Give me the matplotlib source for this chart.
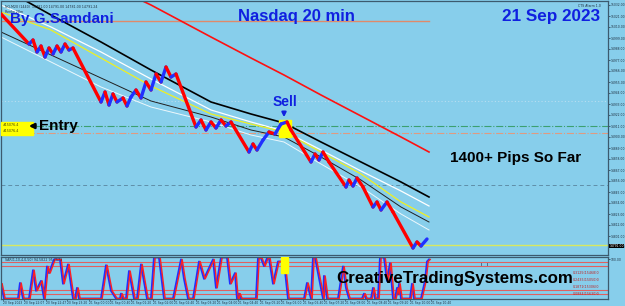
import numpy as np
import matplotlib
matplotlib.use("Agg")
import matplotlib.pyplot as plt
from matplotlib.patches import Rectangle
from matplotlib.collections import LineCollection

W, H = 625, 306
BG = "#87CEEB"
FONT = "Liberation Sans"

# ---- price path (bar, close); 1 bar ~ 1 px, 1 point ~ 1 px ----
bars = [0, 28, 32, 36, 40, 44, 48, 52, 56, 60, 64, 68, 72, 100, 104, 108, 112, 116, 122, 126,
        130, 135, 140, 145, 150, 155, 160, 165, 170, 175, 195, 200, 205, 210, 215, 220, 225, 230,
        248, 252, 256, 262, 268, 274, 280, 286, 290, 310, 314, 318, 322, 328, 345, 348, 352, 356,
        362, 372, 376, 380, 386, 392, 412, 416, 420, 426]
close = [15023, 14993, 14997, 14985, 14991, 14980, 14989, 14983, 14991, 14985, 14993, 14987, 14989,
         14935, 14945, 14932, 14943, 14935, 14939, 14931, 14940, 14947, 14939, 14955, 14947, 14963,
         14955, 14970, 14960, 14963, 14910, 14917, 14907, 14915, 14909, 14917, 14911, 14915, 14885,
         14893, 14887, 14897, 14905, 14903, 14913, 14915, 14907, 14875, 14883, 14877, 14885, 14875,
         14850, 14857, 14851, 14859, 14850, 14830, 14835, 14827, 14835, 14825, 14789, 14795, 14791,
         14798]

# ---- moving averages / bands (bar, value) ----
ma_x = [0, 50, 100, 150, 210, 250, 283, 320, 360, 400, 428]
ma_red = [15105, 15080, 15056, 15032, 15000, 14979, 14962, 14942, 14921, 14900, 14885]
ma_black = [15050, 15022, 14995, 14967, 14935, 14923, 14914, 14895, 14875, 14855, 14840]
ma_white1 = [15032, 15010, 14985, 14958, 14927, 14915, 14906, 14887, 14866, 14846, 14831]
ma_yellow = [15025, 15007, 14979, 14951, 14923, 14913, 14905, 14885, 14863, 14835, 14820]
ma_thin = [15005, 14982, 14959, 14936, 14920, 14907, 14900, 14880, 14857, 14830, 14815]
ma_white2 = [15000, 14975, 14950, 14930, 14915, 14902, 14895, 14873, 14850, 14823, 14807]

# ---- oscillator (bar, value 0-100) ----
osc_x = [0, 3, 17, 19, 22, 28, 32, 35, 40, 43, 46, 48, 53, 59, 62, 67, 72, 74, 76, 78, 100, 105,
         110, 115, 119, 120, 122, 125, 128, 133, 136, 140, 146, 150, 153, 158, 163, 172, 180, 183,
         187, 192, 198, 203, 212, 215, 220, 226, 229, 234, 236, 237, 238, 240, 255, 257, 260, 263,
         266, 268, 272, 277, 283, 287, 303, 306, 310, 312, 314, 322, 323, 326, 337, 342, 345, 348,
         361, 363, 365, 370, 372, 374, 377, 379, 383, 386, 389, 392, 394, 396, 397, 398, 400, 409,
         411, 413, 420, 424, 426, 428]
osc_v = [36, 0, 0, 38, 0, 0, 69, 19, 43, 0, 78, 62, 95, 95, 36, 83, 0, 0, 26, 0, 0, 81,
         19, 0, 0, 12, 0, 0, 67, 0, 0, 83, 0, 0, 100, 100, 0, 0, 95, 48,
         0, 0, 90, 48, 95, 26, 100, 100, 36, 62, 0, 0, 12, 0, 0, 98, 98, 79,
         98, 98, 36, 90, 90, 0, 0, 38, 0, 100, 100, 0, 55, 0, 0, 78, 26, 0,
         0, 12, 0, 0, 26, 0, 0, 100, 100, 43, 86, 0, 0, 26, 10, 36, 0, 0,
         36, 0, 0, 43, 90, 95]
osc_levels = [90, 80, 20, 10]

time_labels = ["20 Sep 2023", "20 Sep 22:07", "20 Sep 22:47", "20 Sep 23:20", "21 Sep 00:00",
               "21 Sep 00:40", "21 Sep 01:20", "21 Sep 02:00", "21 Sep 02:40", "21 Sep 03:20",
               "21 Sep 04:00", "21 Sep 04:40", "21 Sep 05:20", "21 Sep 06:00", "21 Sep 06:40",
               "21 Sep 07:20", "21 Sep 08:00", "21 Sep 08:40", "21 Sep 09:20", "21 Sep 10:00",
               "21 Sep 10:40"]

price_ticks = [15032 - 11 * k for k in range(23)]
last_price = 14791

fig = plt.figure(figsize=(W / 100, H / 100), dpi=100, facecolor=BG)


def frac(x0, y0, x1, y1):
    return [x0 / W, 1 - y1 / H, (x1 - x0) / W, (y1 - y0) / H]


ax = fig.add_axes(frac(1, 1, 608, 255), facecolor=BG)
ax2 = fig.add_axes(frac(1, 257, 608, 299), facecolor=BG)
for a in (ax, ax2):
    for s in a.spines.values():
        s.set_color("#3c5a6e")
        s.set_linewidth(0.9)
    a.yaxis.tick_right()
    a.tick_params(axis="y", length=1.2, width=0.5, labelsize=2.2, pad=0.5, colors="#203040")
    a.set_xlim(0, 607)

ax.set_ylim(15036 - 254, 15036)
ax.set_yticks(price_ticks)
ax.set_yticklabels([f"{v:.2f}" for v in price_ticks])
ax.set_xticks([])

# horizontal lines
ax.plot([0, 428], [15016, 15016], color="#E08A6A", lw=1.0)
ax.axhline(14936, color="#B8DDF0", lw=0.8, ls=(0, (1, 2)))
ax.axhline(14911, color="#3CA070", lw=0.8, ls="-.")
ax.axhline(14904, color="#E09A80", lw=0.8, ls="-.")
ax.axhline(14852, color="#5F8FA8", lw=0.7, ls=(0, (4, 3)))
ax.axhline(14792, color="#D8E860", lw=1.0)

# moving averages / bands
ax.plot(ma_x, ma_red, color="#FF1010", lw=1.2)
ax.plot(ma_x, ma_black, color="black", lw=1.2)
ax.plot(ma_x, ma_white1, color="white", lw=0.9)
ax.plot(ma_x, ma_yellow, color="#F0F020", lw=0.9)
ax.plot(ma_x, ma_thin, color="#202020", lw=0.7)
ax.plot(ma_x, ma_white2, color="white", lw=0.7, alpha=0.85)

# price zigzag: red when falling, blue when rising
pts = np.column_stack([bars, close])
segs = np.stack([pts[:-1], pts[1:]], axis=1)
cols = ["#FF0000" if b[1] < a[1] else "#2030FF" for a, b in segs]
ax.add_collection(LineCollection(segs, colors=cols, linewidths=2.4, capstyle="round", zorder=4))

# sell highlight
ax.add_patch(Rectangle((278, 14900), 12, 17, color="#FFFF00", zorder=3))
ax.annotate("", xy=(283, 14917), xytext=(283, 14928),
            arrowprops=dict(arrowstyle="-|>", color="#1020E0", lw=1.5, mutation_scale=6), zorder=6)
ax.text(284, 14935, "Sell", color="#1020E0", fontsize=10, fontweight="bold", family=FONT,
        ha="center", va="center", zorder=6)

# entry label
ax.add_patch(Rectangle((0, 14902), 32, 13, color="#FFFF00", zorder=3, clip_on=False))
ax.text(2, 14912, "#15076.4", fontsize=2.3, color="#404000", va="center", zorder=5)
ax.text(2, 14906, "#15076.4", fontsize=2.3, color="#404000", va="center", zorder=5)
ax.annotate("", xy=(25, 14911), xytext=(37, 14911),
            arrowprops=dict(arrowstyle="-|>", color="black", lw=1.8, mutation_scale=7), zorder=6)
ax.text(38, 14911, "Entry", color="black", fontsize=11, fontweight="bold", family=FONT,
        ha="left", va="center", zorder=6)

# current price box
ax.text(1.002, last_price, f"{last_price:.2f}", transform=ax.get_yaxis_transform(), fontsize=2.2,
        color="white", va="center", ha="left", clip_on=False, zorder=10,
        bbox=dict(boxstyle="square,pad=0.15", fc="black", ec="none"))

# tiny header texts
ax.text(4, 15030, "NQ,M20 (1440)  14781.00 14791.00 14781.00 14791.24", fontsize=2.3, color="#203040")
ax.text(4, 15024, "Renko 20m", fontsize=2.3, color="#203040")
ax.text(600, 15030, "CTS Alarm 1.0", fontsize=2.3, color="#203040", ha="right")

# oscillator panel
ax2.set_ylim(-1, 101)
for lv in osc_levels:
    ax2.axhline(lv, color="#E06060", lw=0.8)
ax2.plot(osc_x, osc_v, color="#2030FF", lw=1.4)
ax2.plot(np.array(osc_x) + 1.2, osc_v, color="#FF2020", lw=1.0)
ax2.add_patch(Rectangle((280, 62), 7, 40, color="#FFFF00", zorder=3))
ax2.set_yticks([96])
ax2.set_yticklabels(["100.00"])
ax2.text(4, 92, "SAR(1,10,4,0,50) 94.5822 95.7573", fontsize=2.3, color="#203040")
red_notes = ["0.3125(15468)0", "0.2435(15050)0", "0.1871(15306)0", "0.0884(15630)0"]
for i, t in enumerate(red_notes):
    ax2.text(585, 63 - i * 17, t, fontsize=2.3, color="#C02020", ha="center", va="center")
ax2.add_patch(Rectangle((480, 80), 6, 8, fill=False, ec="#406080", lw=0.6))

ax2.set_xticks([2 + 21.4 * i for i in range(len(time_labels))])
ax2.set_xticklabels(time_labels)
ax2.tick_params(axis="x", length=1.2, width=0.4, labelsize=2.2, pad=0.4, colors="#203040")
for lbl in ax2.get_xticklabels():
    lbl.set_ha("left")

# big overlay texts
fig.text(10 / W, 1 - 19 / H, "By G.Samdani", color="#1020E0", fontsize=11, fontweight="bold",
         family=FONT, va="center")
fig.text(296 / W, 1 - 16 / H, "Nasdaq 20 min", color="#1020E0", fontsize=12, fontweight="bold",
         family=FONT, va="center", ha="center")
fig.text(551 / W, 1 - 16 / H, "21 Sep 2023", color="#1020E0", fontsize=12.3, fontweight="bold",
         family=FONT, va="center", ha="center")
fig.text(516 / W, 1 - 158 / H, "1400+ Pips So Far", color="black", fontsize=11, fontweight="bold",
         family=FONT, va="center", ha="center")
fig.text(455 / W, 1 - 278 / H, "CreativeTradingSystems.com", color="black", fontsize=12.2,
         fontweight="bold", family=FONT, va="center", ha="center")

fig.savefig("out.png", dpi=100, facecolor=BG)
